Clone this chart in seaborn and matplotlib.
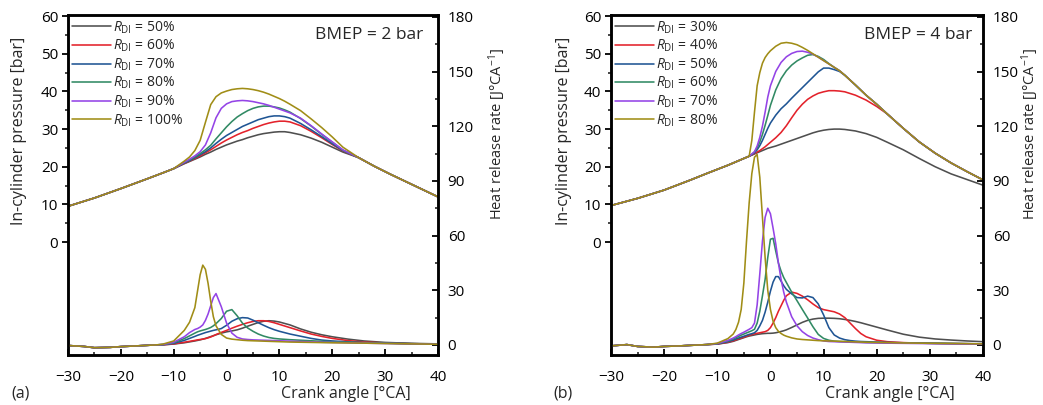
import matplotlib
matplotlib.use("Agg")
import matplotlib.pyplot as plt
import seaborn as sns
from matplotlib.ticker import FixedLocator

# ---------------- data ----------------
COLORS = ["#4f4f4f", "#e3222b", "#1f5594", "#318a64", "#9444e6", "#a08d16"]
LABELS_A = ["50%", "60%", "70%", "80%", "90%", "100%"]
LABELS_B = ["30%", "40%", "50%", "60%", "70%", "80%"]

# Panel (a) pressure [bar]
CA_A_P_HEAD = [-30, -25, -20, -15, -12, -10]
CA_A_P_MID = [-8, -7, -6, -5, -4, -3, -2, -1, 0, 1, 2, 3, 4, 5, 6, 7, 8, 9, 10, 11, 12, 14, 16, 18, 20, 22]
CA_A_P_TAIL = [25, 28, 31, 34, 37, 40]
P_A_HEAD = [9.5, 11.7, 14.2, 16.8, 18.4, 19.5]
P_A_TAIL = [22.4, 20.1, 18.0, 16.0, 14.0, 12.0]
P_A_50 = [20.8, 21.4, 22.0, 22.6, 23.3, 23.9, 24.6, 25.2, 25.8, 26.3, 26.8, 27.2, 27.7, 28.1, 28.5, 28.8, 29.0, 29.2, 29.3, 29.3, 29.1, 28.5, 27.6, 26.5, 25.2, 23.9]
P_A_60 = [20.9, 21.5, 22.2, 22.9, 23.7, 24.5, 25.4, 26.3, 27.1, 27.8, 28.5, 29.1, 29.6, 30.2, 30.7, 31.2, 31.6, 31.9, 32.1, 32.1, 31.9, 30.9, 29.4, 27.7, 25.9, 24.2]
P_A_70 = [21.0, 21.6, 22.4, 23.2, 24.0, 25.0, 26.2, 27.3, 28.3, 29.1, 29.9, 30.7, 31.3, 31.9, 32.5, 32.9, 33.3, 33.5, 33.5, 33.3, 32.9, 31.5, 29.8, 28.0, 26.1, 24.3]
P_A_80 = [21.1, 21.8, 22.6, 23.5, 24.5, 25.7, 27.4, 29.0, 30.6, 32.0, 33.2, 34.1, 34.9, 35.5, 35.9, 36.1, 36.1, 35.9, 35.6, 35.1, 34.5, 32.8, 30.8, 28.6, 26.5, 24.4]
P_A_90 = [21.2, 22.0, 22.9, 24.0, 25.8, 29.0, 33.0, 35.5, 36.7, 37.3, 37.5, 37.6, 37.5, 37.3, 37.0, 36.7, 36.3, 35.8, 35.3, 34.8, 34.3, 32.9, 30.9, 28.7, 26.6, 24.5]
P_A_100 = [21.5, 22.6, 24.3, 27.0, 31.8, 36.5, 38.6, 39.6, 40.1, 40.5, 40.7, 40.8, 40.7, 40.5, 40.2, 39.8, 39.3, 38.7, 38.1, 37.4, 36.6, 34.9, 32.7, 30.4, 27.9, 25.2]

# Panel (a) heat release rate [J/°CA]
CA_A_H_HEAD = [-30, -27, -25, -22, -20, -17, -15, -13]
H_A_HEAD = [-0.3, -0.8, -1.5, -1.3, -0.9, -0.5, -0.2, 0.1]
CA_A_H = [-12, -10, -8, -7, -6, -5.5, -5, -4.5, -4, -3.5, -3, -2.5, -2, -1, 0, 1, 2, 3, 4, 5, 6, 7, 8, 9, 10, 12, 14, 16, 18, 20, 23, 26, 30, 35, 40]
H_A_50 = [0.1, 0.5, 1.2, 1.7, 2.2, 2.5, 2.8, 3.2, 3.6, 4.1, 4.6, 5.1, 5.6, 6.5, 7.2, 7.7, 8.3, 9.2, 10.3, 11.3, 12.3, 13.0, 13.3, 13.1, 12.6, 11.0, 8.8, 7.0, 5.6, 4.5, 3.2, 2.2, 1.4, 0.9, 0.6]
H_A_60 = [0.1, 0.6, 1.5, 2.0, 2.5, 2.8, 3.0, 3.2, 3.5, 3.9, 4.4, 5.0, 5.7, 6.9, 8.0, 9.2, 10.3, 11.3, 12.2, 12.9, 13.3, 13.3, 12.9, 12.2, 11.3, 9.5, 7.7, 6.0, 4.7, 3.6, 2.4, 1.6, 1.1, 0.7, 0.5]
H_A_70 = [0.2, 0.9, 2.5, 3.6, 4.7, 5.3, 5.8, 6.3, 6.8, 7.2, 7.6, 8.0, 8.3, 9.0, 10.8, 13.0, 14.4, 15.0, 14.8, 13.6, 12.2, 10.8, 9.5, 8.4, 7.5, 6.0, 4.8, 3.6, 2.7, 2.2, 1.7, 1.3, 1.0, 0.7, 0.5]
H_A_80 = [0.2, 1.2, 3.5, 5.0, 6.5, 7.2, 7.7, 8.1, 8.5, 9.0, 9.6, 10.5, 11.7, 14.5, 18.5, 19.4, 16.0, 12.0, 9.3, 7.5, 6.0, 4.9, 4.1, 3.6, 3.3, 2.9, 2.6, 2.3, 2.0, 1.8, 1.5, 1.2, 1.0, 0.7, 0.5]
H_A_90 = [0.3, 1.5, 4.5, 6.8, 8.5, 9.0, 9.8, 11.0, 13.5, 17.0, 21.5, 26.0, 28.2, 21.0, 12.0, 6.5, 4.2, 3.3, 3.0, 2.8, 2.7, 2.6, 2.5, 2.4, 2.3, 2.1, 1.9, 1.7, 1.5, 1.4, 1.2, 1.0, 0.8, 0.6, 0.4]
H_A_100 = [0.5, 2.2, 8.0, 12.5, 20.5, 29.5, 38.5, 43.8, 41.5, 33.8, 24.0, 15.5, 10.5, 5.8, 3.8, 3.2, 2.9, 2.6, 2.4, 2.3, 2.2, 2.1, 2.0, 1.9, 1.8, 1.6, 1.5, 1.4, 1.3, 1.2, 1.1, 1.0, 0.8, 0.6, 0.4]

# Panel (b) pressure [bar]
CA_B_P_HEAD = [-30, -25, -20, -15, -12, -10, -8, -6, -5, -4]
P_B_HEAD = [9.7, 11.6, 13.8, 16.5, 18.2, 19.3, 20.4, 21.6, 22.2, 22.8]
CA_B_P = [-3.5, -3, -2.5, -2, -1.5, -1, -0.5, 0, 1, 2, 3, 4, 5, 6, 7, 8, 9, 10, 11, 12, 13, 14, 16, 18, 20, 22, 25, 28, 31, 34, 37, 40]
P_B_TAIL = [45.5, 44.3, 41.7, 39.0, 36.6, 34.0, 30.2, 26.6, 23.6, 21.0, 18.7, 16.5]
P_B_30 = [23.1, 23.4, 23.7, 24.0, 24.3, 24.6, 24.9, 25.1, 25.5, 26.0, 26.5, 27.0, 27.5, 28.0, 28.5, 29.0, 29.4, 29.7, 29.9, 30.0, 30.0, 29.9, 29.5, 28.8, 27.8, 26.5, 24.5, 22.2, 20.0, 18.1, 16.6, 15.1]
P_B_40 = [23.1, 23.5, 23.9, 24.3, 24.8, 25.3, 25.9, 26.5, 27.7, 29.1, 30.9, 33.0, 35.0, 36.6, 37.9, 38.8, 39.5, 39.9, 40.2, 40.2, 40.1, 39.9, 39.0, 37.7, 36.0, 34.0, 30.2, 26.6, 23.6, 21.0, 18.7, 16.5]
P_B_50 = [23.2, 23.7, 24.5, 25.6, 27.0, 28.6, 30.2, 31.6, 33.7, 35.4, 36.7, 38.2, 39.6, 41.0, 42.4, 43.8, 45.2, 46.2, 46.2, 45.8, 45.3, 44.3, 41.7, 39.0, 36.6, 34.0, 30.2, 26.6, 23.6, 21.0, 18.7, 16.5]
P_B_60 = [23.3, 23.9, 25.0, 26.6, 28.6, 31.0, 33.6, 36.3, 40.4, 43.4, 45.5, 47.0, 48.1, 48.9, 49.6, 49.8, 49.3, 48.5, 47.4, 46.4] + P_B_TAIL
P_B_70 = [23.4, 24.0, 25.5, 27.8, 30.8, 34.5, 38.5, 41.5, 45.3, 47.7, 49.2, 50.1, 50.6, 50.7, 50.4, 49.9, 49.1, 48.2, 47.3, 46.4] + P_B_TAIL
P_B_80 = [27.0, 34.5, 41.5, 45.0, 47.5, 49.0, 50.0, 50.8, 52.0, 52.8, 53.0, 52.8, 52.4, 51.7, 50.9, 50.0, 49.1, 48.2, 47.3, 46.4] + P_B_TAIL

# Panel (b) heat release rate [J/°CA]
CA_B_H_HEAD = [-30, -27, -25, -22, -20, -17, -15, -12]
H_B_HEAD = [-0.5, 0.2, -0.8, -1.2, -0.8, -0.5, -0.2, 0.2]
CA_B_H = [-10, -8, -7, -6.5, -6, -5.5, -5, -4.5, -4, -3.5, -3, -2.5, -2, -1.5, -1, -0.5, 0, 0.5, 1, 1.5, 2, 2.5, 3,
          4, 5, 6, 7, 8, 9, 10, 11, 12, 13, 14, 15, 16, 17, 18, 20, 22, 25, 28, 31, 34, 37, 40]
H_B_30 = [0.5, 1.3, 2.0, 2.5, 3.0, 3.5, 4.0, 4.5, 4.9, 5.2, 5.5, 5.8, 6.0, 6.2, 6.3, 6.4, 6.4, 6.5, 6.7, 7.0, 7.4, 7.8, 8.3,
          9.6, 11.0, 12.4, 13.5, 14.2, 14.6, 14.7, 14.7, 14.6, 14.4, 14.0, 13.5, 12.9, 12.2, 11.4, 9.8, 8.2, 5.9, 4.3, 3.3, 2.7, 2.2, 1.8]
H_B_40 = [0.5, 1.5, 2.3, 2.8, 3.3, 3.8, 4.3, 4.8, 5.3, 5.7, 6.1, 6.4, 6.7, 7.0, 7.3, 8.0, 9.5, 12.0, 15.0, 18.5, 21.5, 24.5, 27.0,
          29.0, 28.3, 26.8, 24.8, 22.5, 20.5, 19.4, 18.8, 18.2, 17.0, 15.0, 12.0, 9.0, 6.3, 4.5, 2.6, 1.8, 1.3, 1.0, 0.9, 0.8, 0.7, 0.6]
H_B_50 = [0.6, 1.8, 2.7, 3.3, 3.8, 4.3, 4.8, 5.3, 5.8, 6.2, 6.7, 8.0, 10.5, 13.5, 18.0, 23.5, 29.5, 34.5, 37.5, 37.5, 35.0, 32.5, 30.5,
          28.0, 26.0, 25.8, 26.8, 26.0, 22.5, 16.5, 9.5, 5.5, 3.8, 2.9, 2.4, 2.1, 1.9, 1.8, 1.6, 1.4, 1.2, 1.0, 0.9, 0.8, 0.7, 0.6]
H_B_60 = [0.7, 2.2, 3.3, 4.0, 4.7, 5.4, 6.0, 6.6, 7.2, 7.8, 8.6, 12.0, 18.5, 27.0, 36.0, 48.0, 58.0, 58.5, 51.5, 45.0, 40.5, 37.0, 34.3,
          29.0, 24.3, 19.5, 14.8, 10.0, 5.8, 3.6, 2.6, 2.1, 1.9, 1.8, 1.7, 1.6, 1.5, 1.4, 1.3, 1.2, 1.1, 1.0, 0.9, 0.8, 0.7, 0.6]
H_B_70 = [0.8, 2.5, 3.8, 4.6, 5.5, 6.3, 7.0, 7.8, 8.6, 9.5, 12.0, 22.0, 39.0, 57.0, 70.0, 75.0, 72.0, 64.0, 55.5, 45.0, 36.0, 29.0, 23.5,
          15.5, 10.5, 7.3, 5.2, 3.8, 2.9, 2.2, 1.9, 1.8, 1.7, 1.6, 1.5, 1.4, 1.3, 1.2, 1.1, 1.0, 0.9, 0.8, 0.7, 0.6, 0.5, 0.5]
H_B_80 = [1.0, 3.5, 6.0, 8.5, 12.5, 19.5, 34.0, 57.0, 78.0, 94.0, 103.0, 104.5, 92.0, 70.0, 48.0, 30.0, 19.5, 13.0, 9.5, 7.5, 6.3, 5.4, 4.8,
          3.9, 3.3, 3.0, 2.8, 2.6, 2.4, 2.3, 2.2, 2.1, 2.0, 1.9, 1.8, 1.7, 1.6, 1.5, 1.4, 1.3, 1.1, 1.0, 0.9, 0.8, 0.7, 0.6]

# ---------------- style ----------------
sns.set_theme(style="ticks")
plt.rcParams["font.family"] = ["Open Sans", "DejaVu Sans"]
plt.rcParams["mathtext.fontset"] = "custom"
plt.rcParams["mathtext.rm"] = "Open Sans"
plt.rcParams["mathtext.it"] = "Open Sans:italic"
plt.rcParams["axes.unicode_minus"] = True

FS_TICK = 11
FS_LAB = 11.5

fig = plt.figure(figsize=(10.43, 4.05), dpi=100)
W, H = 1043.0, 405.0


def make_axes(left_px, right_px):
    return fig.add_axes([left_px / W, (H - 355) / H, (right_px - left_px) / W, 340 / H])


def draw(ax, ca_p, pressures, ca_h, hrrs, labels, bmep, tag, ylab_l, ylab_r, bmep_x, tag_x):
    ax2 = ax.twinx()
    for lab, col, p in zip(labels, COLORS, pressures):
        sns.lineplot(x=ca_p, y=p, ax=ax, color=col, linewidth=1.15, sort=False,
                     estimator=None, label=r"$R_{\mathrm{DI}}$ = " + lab)
    for col, h in zip(COLORS, hrrs):
        sns.lineplot(x=ca_h, y=h, ax=ax2, color=col, linewidth=1.15, sort=False,
                     estimator=None, legend=False)

    ax.set_xlim(-30, 40)
    ax.set_ylim(-30, 60.3)
    ax2.set_ylim(-5.5, 181)
    ax.set_xticks(range(-30, 41, 10))
    ax.xaxis.set_minor_locator(FixedLocator(list(range(-25, 40, 10))))
    ax.set_yticks(range(0, 61, 10))
    ax.yaxis.set_minor_locator(FixedLocator(list(range(5, 60, 10))))
    ax2.set_yticks(range(0, 181, 30))
    ax2.yaxis.set_minor_locator(FixedLocator(list(range(15, 180, 30))))

    ax.tick_params(axis="x", which="major", direction="in", length=4, width=1.3,
                   labelsize=FS_TICK, pad=11, colors="black")
    ax.tick_params(axis="x", which="minor", direction="in", length=2.5, width=1.2)
    ax.tick_params(axis="y", which="major", direction="out", length=4, width=1.3,
                   labelsize=FS_TICK, pad=3, colors="black")
    ax.tick_params(axis="y", which="minor", direction="out", length=2.5, width=1.2)
    ax2.tick_params(axis="y", which="major", direction="in", length=4, width=1.3,
                    labelsize=FS_TICK, pad=7, colors="black")
    ax2.tick_params(axis="y", which="minor", direction="in", length=2.5, width=1.2)

    for a in (ax, ax2):
        for s in a.spines.values():
            s.set_linewidth(1.8)
            s.set_color("black")
            s.set_visible(True)

    ax.set_xlabel("Crank angle [°CA]", fontsize=FS_LAB)
    ax.xaxis.set_label_coords(0.75, -0.09)
    ax.set_ylabel("In-cylinder pressure [bar]", fontsize=FS_LAB)
    ax.yaxis.set_label_coords(ylab_l, 0.66)
    ax2.set_ylabel("Heat release rate [J°CA$^{-1}$]", fontsize=10.5)
    ax2.yaxis.set_label_coords(ylab_r, 0.65)

    ax.legend(loc="upper left", bbox_to_anchor=(0.0, 1.0), frameon=False,
              fontsize=10, handlelength=2.8, handletextpad=0.15, labelspacing=0.16,
              borderaxespad=0.05, borderpad=0.25)
    ax.text(bmep_x, 0.941, bmep, transform=ax.transAxes, ha="right", va="center",
            fontsize=12.5)
    fig.text(tag_x / W, 1 - 393 / H, tag, fontsize=FS_LAB, va="center", ha="left")


ax_a = make_axes(68, 438)
draw(ax_a,
     CA_A_P_HEAD + CA_A_P_MID + CA_A_P_TAIL,
     [P_A_HEAD + s + P_A_TAIL for s in (P_A_50, P_A_60, P_A_70, P_A_80, P_A_90, P_A_100)],
     CA_A_H_HEAD + CA_A_H,
     [H_A_HEAD + s for s in (H_A_50, H_A_60, H_A_70, H_A_80, H_A_90, H_A_100)],
     LABELS_A, "BMEP = 2 bar", "(a)", -0.111, 1.13, 0.959, 11)

ax_b = make_axes(611, 983)
draw(ax_b,
     CA_B_P_HEAD + CA_B_P,
     [P_B_HEAD + s for s in (P_B_30, P_B_40, P_B_50, P_B_60, P_B_70, P_B_80)],
     CA_B_H_HEAD + CA_B_H,
     [H_B_HEAD + s for s in (H_B_30, H_B_40, H_B_50, H_B_60, H_B_70, H_B_80)],
     LABELS_B, "BMEP = 4 bar", "(b)", -0.105, 1.097, 0.970, 553)

fig.savefig("out.png", dpi=100)
